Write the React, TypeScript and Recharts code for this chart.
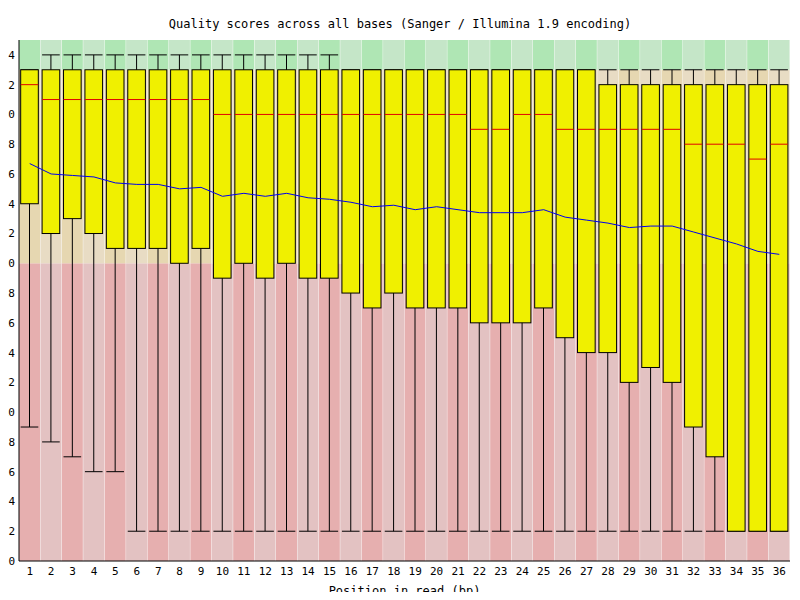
import React from "react";
import { ComposedChart, Bar, Line, XAxis, YAxis, Label } from "recharts";

const positions = Array.from({ length: 36 }, (_, i) => String(i + 1));
const q3 = [33,33,33,33,33,33,33,33,33,33,33,33,33,33,33,33,33,33,33,33,33,33,33,33,33,33,33,32,32,32,32,32,32,32,32,32];
const q1 = [24,22,23,22,21,21,21,20,21,19,20,19,20,19,19,18,17,18,17,17,17,16,16,16,17,15,14,14,12,13,12,9,7,2,2,2];
const median = [32,31,31,31,31,31,31,31,31,30,30,30,30,30,30,30,30,30,30,30,30,29,29,30,30,29,29,29,29,29,29,28,28,28,27,28];
const lowW = [9,8,7,6,6,2,2,2,2,2,2,2,2,2,2,2,2,2,2,2,2,2,2,2,2,2,2,2,2,2,2,2,2,2,2,2];
const highW = [33,34,34,34,34,34,34,34,34,34,34,34,34,34,34,33,33,33,33,33,33,33,33,33,33,33,33,33,33,33,33,33,33,33,33,33];
const mean = [26.7,26.0,25.9,25.8,25.4,25.3,25.3,25.0,25.1,24.5,24.7,24.5,24.7,24.4,24.3,24.1,23.8,23.9,23.6,23.8,23.6,23.4,23.4,23.4,23.6,23.1,22.9,22.7,22.4,22.5,22.5,22.1,21.7,21.3,20.8,20.6];
const yMin = 0;
const yMax = 35;
const redTop = 20;
const orangeTop = 33;
const yTicks = [0,2,4,6,8,10,12,14,16,18,20,22,24,26,28,30,32,34];

const data = positions.map((p, i) => ({
  pos: p, idx: i, q1: q1[i], q3: q3[i], median: median[i], low: lowW[i], high: highW[i], mean: mean[i], range: [yMin, yMax],
}));

const font = "'DejaVu Sans Mono', monospace";

const BoxShape = (props: any) => {
  const { x, y, width, height, payload } = props;
  const py = (v: number) => y + height - ((v - yMin) / (yMax - yMin)) * height;
  const even = payload.idx % 2 === 0;
  const cols = even
    ? ["#e6afaf", "#e6d7b1", "#afe6b4"]
    : ["#e3c2c2", "#e8dcc4", "#c5e6c8"];
  const inset = width * 0.08;
  const bx = x + inset, bw = width - 2 * inset, cx = x + width / 2;
  return (
    <g>
      <rect x={x} y={py(redTop)} width={width} height={py(yMin) - py(redTop)} fill={cols[0]} />
      <rect x={x} y={py(orangeTop)} width={width} height={py(redTop) - py(orangeTop)} fill={cols[1]} />
      <rect x={x} y={py(yMax)} width={width} height={py(orangeTop) - py(yMax)} fill={cols[2]} />
      <line x1={cx} x2={cx} y1={py(payload.high)} y2={py(payload.low)} stroke="#000" />
      <line x1={bx} x2={bx + bw} y1={py(payload.high)} y2={py(payload.high)} stroke="#000" />
      <line x1={bx} x2={bx + bw} y1={py(payload.low)} y2={py(payload.low)} stroke="#000" />
      <rect x={bx} y={py(payload.q3)} width={bw} height={py(payload.q1) - py(payload.q3)} fill="#f0f000" stroke="#000" />
      <line x1={bx} x2={bx + bw} y1={py(payload.median)} y2={py(payload.median)} stroke="#e00000" />
    </g>
  );
};

export default function App() {
  return (
    <div style={{ margin: -8, width: 800, height: 600, background: "#fff", position: "relative" }}>
      <div style={{ position: "absolute", top: 17, width: 800, textAlign: "center", fontFamily: font, fontSize: 12 }}>
        Quality scores across all bases (Sanger / Illumina 1.9 encoding)
      </div>
      <ComposedChart width={800} height={600} data={data} margin={{ top: 40, right: 10, left: 0, bottom: 0 }} barCategoryGap="0%">
        <XAxis dataKey="pos" height={39} tickLine={false} tickSize={0} tickMargin={6} stroke="#000" tick={{ fontFamily: font, fontSize: 11, fill: "#000" }}>
          <Label value="Position in read (bp)" position="insideBottom" offset={5} style={{ fontFamily: font, fontSize: 12, fill: "#000" }} />
        </XAxis>
        <YAxis domain={[yMin, yMax]} ticks={yTicks} width={19} tickLine={false} tickSize={0} tickMargin={4} stroke="#000" interval={0} tick={{ fontFamily: font, fontSize: 11, fill: "#000" }} />
        <Bar dataKey="range" shape={<BoxShape />} isAnimationActive={false} />
        <Line dataKey="mean" stroke="#0000ee" dot={false} strokeWidth={1} isAnimationActive={false} />
      </ComposedChart>
    </div>
  );
}
